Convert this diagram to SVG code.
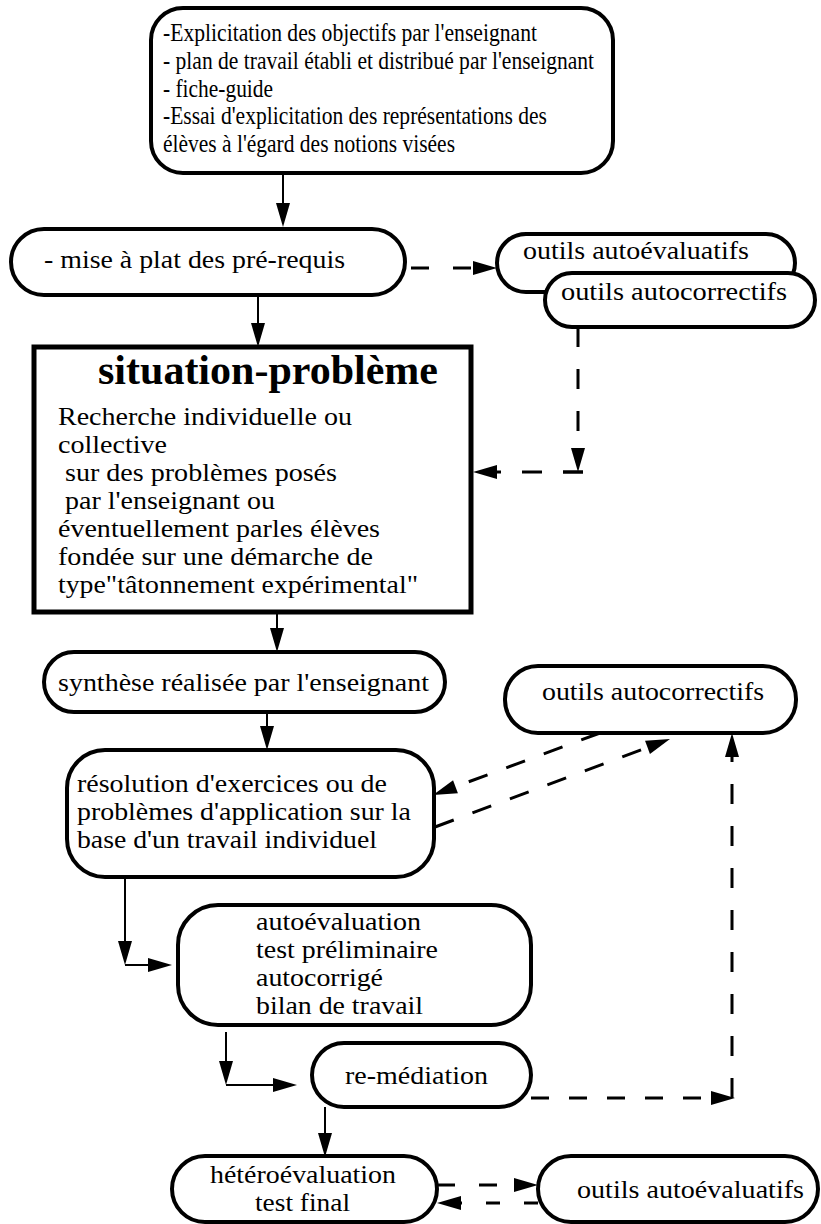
<svg xmlns="http://www.w3.org/2000/svg" width="821" height="1224" viewBox="0 0 821 1224" font-family="'Liberation Serif', 'Times New Roman', Times, serif">
<style>
.node{fill:#fff;stroke:#000;stroke-width:4}
.box{fill:#fff;stroke:#000;stroke-width:5}
text{font-family:'Liberation Serif', 'Times New Roman', Times, serif;font-size:25.5px;fill:#000}
.tb{font-size:25px}
.title{font-size:42px;font-weight:bold}
.arrow{fill:none;stroke:#000;stroke-width:2;marker-end:url(#ah)}
.dash{fill:none;stroke:#000;stroke-width:3;stroke-dasharray:20 20;marker-end:url(#ah)}
.tick{fill:none;stroke:#000;stroke-width:3}
</style>
<defs>
<marker id="ah" markerUnits="userSpaceOnUse" markerWidth="24" markerHeight="16" refX="0" refY="8" orient="auto" overflow="visible"><path d="M0,1 L24,8 L0,15 z" fill="#000"/></marker>
</defs>
<rect x="0" y="0" width="821" height="1224" fill="#fff"/>

<g id="connectors">
<path class="arrow" d="M283,173 V203"/>
<path class="dash" d="M411,268 H473" style="stroke-dasharray:18 24"/>
<path class="arrow" d="M258,295 V323"/>
<path class="dash" d="M578,327 V448" style="stroke-dasharray:20 22"/>
<path class="tick" d="M563,472 H583"/>
<path class="dash" d="M583,472 H497" style="stroke-dasharray:20 21"/>
<path class="arrow" d="M277,612 V628"/>
<path class="arrow" d="M267,712 V726"/>
<path class="dash" d="M600,733 L455.5,786.7"/>
<path class="dash" d="M435,827 L647.5,747.4"/>
<path class="dash" d="M531,1098 H711" style="stroke-dasharray:18 20"/>
<path class="dash" d="M732,1098 V757" style="stroke-dasharray:20 22"/>
<path class="arrow" d="M125,877 V941"/>
<path class="arrow" d="M125,965 H148"/>
<path class="arrow" d="M226,1032 V1061"/>
<path class="arrow" d="M226,1085 H273"/>
<path class="arrow" d="M325,1107 V1133"/>
<path class="dash" d="M437,1185 H514" style="stroke-dasharray:18 24"/>
<path class="dash" d="M538,1203 H461" style="stroke-dasharray:14 24"/>
</g>

<g id="n-objectifs">
<rect class="node" x="151" y="8" width="462" height="165" rx="32"/>
<text class="tb" x="163" y="41" textLength="374" lengthAdjust="spacingAndGlyphs">-Explicitation des objectifs par l'enseignant</text>
<text class="tb" x="163" y="68.75" textLength="431" lengthAdjust="spacingAndGlyphs">- plan de travail établi et distribué par l'enseignant</text>
<text class="tb" x="163" y="96.5" textLength="110" lengthAdjust="spacingAndGlyphs">- fiche-guide</text>
<text class="tb" x="163" y="124.25" textLength="384" lengthAdjust="spacingAndGlyphs">-Essai d'explicitation des représentations des</text>
<text class="tb" x="163" y="152" textLength="292" lengthAdjust="spacingAndGlyphs">élèves à l'égard des notions visées</text>
</g>

<g id="n-prerequis">
<rect class="node" x="11" y="229" width="394" height="66" rx="33"/>
<text x="44" y="268" textLength="301" lengthAdjust="spacingAndGlyphs">- mise à plat des pré-requis</text>
</g>

<g id="n-autoeval-1">
<rect class="node" x="497" y="234" width="298" height="58" rx="29"/>
<text x="523" y="259" textLength="226" lengthAdjust="spacingAndGlyphs">outils autoévaluatifs</text>
</g>

<g id="n-autocorr-1">
<rect class="node" x="545" y="273" width="270" height="54" rx="27"/>
<text x="561" y="300" textLength="226" lengthAdjust="spacingAndGlyphs">outils autocorrectifs</text>
</g>

<g id="n-situation">
<rect class="box" x="34" y="347" width="437" height="265"/>
<text class="title" x="98" y="384" textLength="340" lengthAdjust="spacingAndGlyphs">situation-problème</text>
<text x="58" y="425" textLength="294" lengthAdjust="spacingAndGlyphs">Recherche individuelle ou</text>
<text x="58" y="453" textLength="109" lengthAdjust="spacingAndGlyphs">collective</text>
<text x="65" y="481" textLength="272" lengthAdjust="spacingAndGlyphs">sur des problèmes posés</text>
<text x="65" y="509" textLength="210" lengthAdjust="spacingAndGlyphs">par l'enseignant ou</text>
<text x="58" y="537" textLength="322" lengthAdjust="spacingAndGlyphs">éventuellement parles élèves</text>
<text x="58" y="565" textLength="315" lengthAdjust="spacingAndGlyphs">fondée sur une démarche de</text>
<text x="58" y="593" textLength="360" lengthAdjust="spacingAndGlyphs">type"tâtonnement expérimental"</text>
</g>

<g id="n-synthese">
<rect class="node" x="44" y="652" width="401" height="60" rx="30"/>
<text x="58" y="691" textLength="371" lengthAdjust="spacingAndGlyphs">synthèse réalisée par l'enseignant</text>
</g>

<g id="n-autocorr-2">
<rect class="node" x="505" y="666" width="291" height="67" rx="33"/>
<text x="542" y="700" textLength="222" lengthAdjust="spacingAndGlyphs">outils autocorrectifs</text>
</g>

<g id="n-resolution">
<rect class="node" x="67" y="750" width="367" height="127" rx="38"/>
<text x="77" y="792" textLength="310" lengthAdjust="spacingAndGlyphs">résolution d'exercices ou de</text>
<text x="77" y="820" textLength="334" lengthAdjust="spacingAndGlyphs">problèmes d'application sur la</text>
<text x="77" y="848" textLength="300" lengthAdjust="spacingAndGlyphs">base d'un travail individuel</text>
</g>

<g id="n-autoevaluation">
<rect class="node" x="178" y="905" width="353" height="120" rx="40"/>
<text x="256" y="930" textLength="165" lengthAdjust="spacingAndGlyphs">autoévaluation</text>
<text x="256" y="958" textLength="182" lengthAdjust="spacingAndGlyphs">test préliminaire</text>
<text x="256" y="986" textLength="127" lengthAdjust="spacingAndGlyphs">autocorrigé</text>
<text x="256" y="1014" textLength="167" lengthAdjust="spacingAndGlyphs">bilan de travail</text>
</g>

<g id="n-remediation">
<rect class="node" x="312" y="1043" width="219" height="64" rx="32"/>
<text x="345" y="1084" textLength="143" lengthAdjust="spacingAndGlyphs">re-médiation</text>
</g>

<g id="n-heteroevaluation">
<rect class="node" x="172" y="1156" width="265" height="66" rx="33"/>
<text x="210" y="1183" textLength="186" lengthAdjust="spacingAndGlyphs">hétéroévaluation</text>
<text x="255" y="1211" textLength="95" lengthAdjust="spacingAndGlyphs">test final</text>
</g>

<g id="n-autoeval-2">
<rect class="node" x="538" y="1156" width="280" height="66" rx="33"/>
<text x="577" y="1198" textLength="227" lengthAdjust="spacingAndGlyphs">outils autoévaluatifs</text>
</g>
</svg>
